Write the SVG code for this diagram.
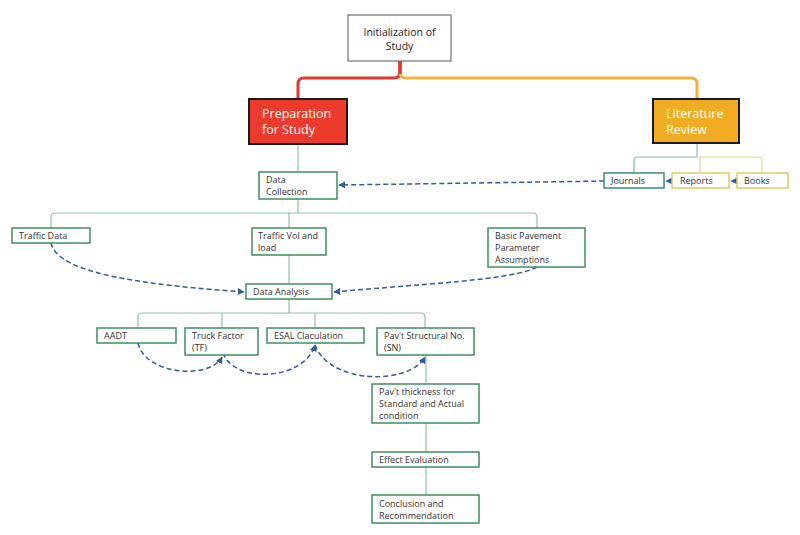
<svg xmlns="http://www.w3.org/2000/svg" width="800" height="535" viewBox="0 0 800 535">
<defs>
<marker id="ah" viewBox="0 0 10 10" refX="9" refY="5" markerWidth="7" markerHeight="7" orient="auto-start-reverse" markerUnits="userSpaceOnUse">
<path d="M0,0 L10,5 L0,10 z" fill="#2f5c9e"/>
</marker>
<style>
text{font-family:"Open Sans","Noto Sans","Liberation Sans",sans-serif;font-size:9px;fill:#333}
.nb{fill:#fff;stroke:#3f8f62;stroke-width:1.5}
.tl{fill:none;stroke:#8fc2a2;stroke-width:1.2}
.da{fill:none;stroke:#2f5c9e;stroke-width:1.5;stroke-dasharray:5,3;marker-end:url(#ah)}
.big{font-size:12.5px;fill:#fff}
</style>
</defs>
<rect width="800" height="535" fill="#fff"/>
<g id="connectors">
<path d="M400,61 V72 Q400,78 394,78 H304 Q298,78 298,84 V99" fill="none" stroke="#e0372e" stroke-width="3"/>
<path d="M400,72 Q400,78 406,78 H691 Q697,78 697,84 V99" fill="none" stroke="#f0b43a" stroke-width="3"/>
<path d="M400,61 V74" fill="none" stroke="#e0372e" stroke-width="3.5"/>
<path class="tl" d="M298,144 V172"/>
<path class="tl" d="M697,143 V157"/>
<path d="M697,157 H638 Q634,157 634,161 V173" fill="none" stroke="#7fb7b0" stroke-width="1.2"/>
<path d="M697,157 H758 Q762,157 762,161 V173 M700,157 V173" fill="none" stroke="#ecd48a" stroke-width="1.2"/>
<path class="tl" d="M298,199 V213 M55,213 H533 Q537,213 537,217 V228 M55,213 Q51,213 51,217 V228 M289,213 V228 M289,255 V284"/>
<path class="tl" d="M289,299 V313 M142,313 H421 Q425,313 425,317 V328 M142,313 Q138,313 138,317 V328 M222,313 V328 M315,313 V328"/>
<path class="tl" d="M426,355 V384 M426,423 V452 M426,467 V495"/>
<path class="da" d="M604,181 Q480,183 339,185"/>
<path class="da" d="M672,181 L666,181"/>
<path class="da" d="M737,181 L731,181"/>
<path class="da" d="M51,243 C58,275 150,285 244,292"/>
<path class="da" d="M537,267 C515,280 420,284 334,292"/>
<path class="da" d="M138,343 C145,375 210,380 222,357"/>
<path class="da" d="M223,353 C235,385 305,380 315,345"/>
<path class="da" d="M315,345 C330,385 410,385 425,357"/>
</g>
<g id="n-init"><rect x="348" y="15" width="103" height="46" fill="#fff" stroke="#555" stroke-width="1"/><text x="399.5" y="36" text-anchor="middle" style="font-size:10.5px;fill:#222">Initialization of</text><text x="399.5" y="50" text-anchor="middle" style="font-size:10.5px;fill:#222">Study</text></g>
<g id="n-prep"><rect x="249" y="99" width="98" height="45" fill="#ec3a2c" stroke="#1a1a1a" stroke-width="2"/><text class="big" x="262" y="118">Preparation</text><text class="big" x="262" y="134">for Study</text></g>
<g id="n-lit"><rect x="653" y="99" width="86" height="44" fill="#f0ac23" stroke="#1a1a1a" stroke-width="2"/><text class="big" x="666" y="118">Literature</text><text class="big" x="666" y="134">Review</text></g>
<g id="n-journals"><rect x="604" y="173" width="60" height="15" fill="#fff" stroke="#3a8a82" stroke-width="1.5"/><text x="611" y="184">Journals</text></g>
<g id="n-reports"><rect x="672" y="173" width="57" height="15" fill="#fff" stroke="#e8c660" stroke-width="1.5"/><text x="680" y="184">Reports</text></g>
<g id="n-books"><rect x="737" y="173" width="51" height="15" fill="#fff" stroke="#e8c660" stroke-width="1.5"/><text x="744" y="184">Books</text></g>
<g id="n-datacol"><rect class="nb" x="259" y="172" width="78" height="27"/><text x="266" y="183">Data</text><text x="266" y="195">Collection</text></g>
<g id="n-traffic"><rect class="nb" x="12" y="228" width="78" height="15"/><text x="19" y="239">Traffic Data</text></g>
<g id="n-trafficvol"><rect class="nb" x="252" y="228" width="74" height="27"/><text x="258" y="239">Traffic Vol and</text><text x="258" y="251">load</text></g>
<g id="n-basic"><rect class="nb" x="488" y="228" width="97" height="39"/><text x="495" y="239">Basic Pavement</text><text x="495" y="251">Parameter</text><text x="495" y="263">Assumptions</text></g>
<g id="n-analysis"><rect class="nb" x="246" y="284" width="86" height="15"/><text x="253" y="295">Data Analysis</text></g>
<g id="n-aadt"><rect class="nb" x="97" y="328" width="79" height="15"/><text x="104" y="339">AADT</text></g>
<g id="n-tf"><rect class="nb" x="185" y="328" width="73" height="27"/><text x="192" y="339">Truck Factor</text><text x="192" y="351">(TF)</text></g>
<g id="n-esal"><rect class="nb" x="267" y="328" width="97" height="15"/><text x="274" y="339">ESAL Claculation</text></g>
<g id="n-sn"><rect class="nb" x="377" y="328" width="97" height="27"/><text x="384" y="339">Pav't Structural No.</text><text x="384" y="351">(SN)</text></g>
<g id="n-thick"><rect class="nb" x="372" y="384" width="107" height="39"/><text x="379" y="395">Pav't thickness for</text><text x="379" y="407">Standard and Actual</text><text x="379" y="419">condition</text></g>
<g id="n-effect"><rect class="nb" x="372" y="452" width="107" height="15"/><text x="379" y="463">Effect Evaluation</text></g>
<g id="n-concl"><rect class="nb" x="372" y="495" width="107" height="28"/><text x="379" y="507">Conclusion and</text><text x="379" y="519">Recommendation</text></g>
</svg>
